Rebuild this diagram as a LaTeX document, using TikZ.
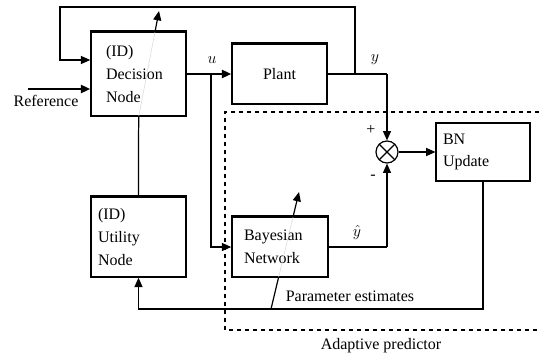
\documentclass[tikz,border=0pt]{standalone}
\usepackage{fontspec}
\setmainfont{Liberation Serif}
\usetikzlibrary{arrows.meta,calc}
\tikzset{
  block/.style={draw, line width=1.1pt, fill=white, align=left,
    font=\fontsize{12}{17}\selectfont},
  wire/.style={line width=0.9pt},
  fat/.style={line width=2.2pt},
  arr/.style={wire, -{Triangle[length=7pt,width=6pt]}},
  lbl/.style={font=\fontsize{12}{14}\selectfont}
}

\begin{document}
\begin{tikzpicture}[x=0.75pt, y=-0.75pt]
        \useasboundingbox (0,0) rectangle (539,356);

        % blocks
        \node[block, inner xsep=11.25pt, text width=48.75pt, minimum height=63pt] (dec) at (138.5,74) {(ID)\\Decision\\Node};
        \node[block, inner xsep=5.25pt, text width=60.75pt, minimum height=60pt] (util) at (138.5,237) {(ID)\\Utility\\Node};
        \node[block, minimum width=71.25pt, minimum height=45pt, align=center] (plant) at (279.5,74) {Plant};
        \node[block, inner xsep=9pt, text width=54pt, minimum height=45pt] (bn) at (280,247) {Bayesian\\Network};
        \node[block, line width=0.8pt, inner xsep=5.25pt, text width=60pt, minimum height=43.5pt] (upd) at (483,152) {BN\\Update};
        \node[draw, wire, circle, minimum size=16.5pt, inner sep=0pt,
          path picture={\draw[wire] (path picture bounding box.north west) -- (path picture bounding box.south east)
            (path picture bounding box.north east) -- (path picture bounding box.south west);}] (sum) at (387,152) {};

        % heavy top edges
        \foreach \n in {dec,plant,util,bn}
          \draw[fat] (\n.north west) -- (\n.north east);

        % adaptive predictor frame
        \draw[dashed, line width=1.1pt] (539,112) -- (225,112) -- (225,330) -- (539,330);
        \node[lbl] (adp) at (381,346) {Adaptive predictor};

        % branch points
        \coordinate (ref) at (28,89);
        \coordinate (ubr) at (211,74);
        \coordinate (fb) at (355,74);
        \coordinate (ybr) at (387,74);
        \coordinate (fbl) at (60,7);
        \coordinate (yh) at (387,247);
        \coordinate (pl) at (138.5,309);

        % signals
        \draw[arr, line width=1.6pt] (ref) -- (ref -| dec.west);
        \node[lbl] (reflbl) at (46,101) {Reference};
        \draw[arr, line width=1.6pt] (dec.east) -- (plant.west);
        \node[lbl] (ulbl) at (212,60) {$u$};
        \draw[arr] (ubr) |- (bn.west);
        \draw[fat] (plant.east) -- (ybr);
        \node[lbl] (ylbl) at (375,60) {$y$};
        \draw[arr] (ybr) -- (sum.north);
        \draw[arr] (fb) |- (fbl) |- ([yshift=10.5pt]dec.west);
        \draw[fat] (bn.east) -- (yh);
        \node[lbl] (yhlbl) at (357,233) {$\hat{y}$};
        \draw[arr] (yh) -- (sum.south);
        \node[lbl] (plus) at (371,130) {+};
        \node[lbl] (minus) at (373,177) {-};
        \draw[arr] (sum.east) -- (upd.west);
        \draw[arr] (upd.south) |- (pl) -- (util.south);
        \node[lbl] (pelbl) at (350,296) {Parameter estimates};

        % adaptation arrows through the blocks
        \coordinate (da0) at (135,136);
        \coordinate (da1) at (159,11);
        \draw[wire] (util.north) -- (util.north |- da0) -- ($(da0)!0.16!(da1)$);
        \draw[gray!30, thin] ($(da0)!0.16!(da1)$) -- ($(da0)!0.832!(da1)$);
        \draw[arr] ($(da0)!0.832!(da1)$) -- (da1);
        \coordinate (ba0) at (271,309);
        \coordinate (ba1) at (299,192);
        \draw[wire] (ba0) -- ($(ba0)!0.2735!(ba1)$);
        \draw[gray!30, thin] ($(ba0)!0.2735!(ba1)$) -- ($(ba0)!0.786!(ba1)$);
        \draw[arr] ($(ba0)!0.786!(ba1)$) -- (ba1);
    \end{tikzpicture}
\end{document}
